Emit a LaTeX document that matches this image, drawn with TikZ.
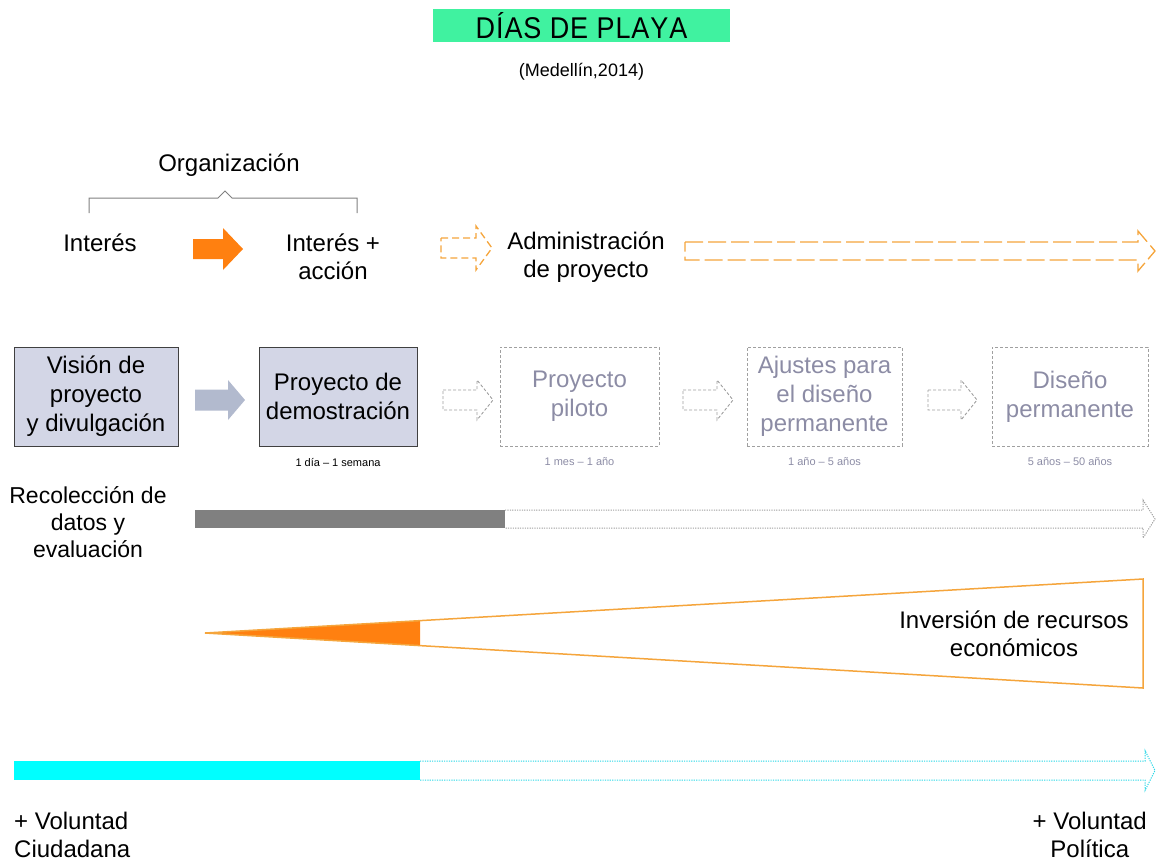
\documentclass[tikz,border=0pt]{standalone}
\usepackage{fontspec}
\setmainfont{Liberation Sans}
\usetikzlibrary{positioning}
\definecolor{mint}{RGB}{64,242,160}
\definecolor{orng}{RGB}{255,128,16}
\definecolor{lorng}{RGB}{245,165,60}
\definecolor{boxfill}{RGB}{211,214,230}
\definecolor{arrgray}{RGB}{178,186,206}
\definecolor{ghost}{RGB}{140,140,165}
\definecolor{dashgray}{RGB}{160,160,160}
\definecolor{barcyan}{RGB}{0,255,255}
\definecolor{dotcyan}{RGB}{40,215,230}
\definecolor{bargray}{RGB}{128,128,128}
\newcommand{\fs}[2]{\fontsize{#1}{#2}\selectfont}
% style, x1, x2, yc, shaft half, head half, head length
\newcommand{\blockarrow}[7]{%
  \draw[#1] ({#2},{#4-#5}) -- ({#3-#7},{#4-#5}) -- ({#3-#7},{#4-#6}) -- ({#3},{#4})
    -- ({#3-#7},{#4+#6}) -- ({#3-#7},{#4+#5}) -- ({#2},{#4+#5}) -- cycle;}
% open-ended outline arrow: style, x1, x2, yc, shaft half, head half, head length
\newcommand{\openarrow}[7]{%
  \draw[#1] ({#2},{#4-#5}) -- ({#3-#7},{#4-#5}) -- ({#3-#7},{#4-#6}) -- ({#3},{#4})
    -- ({#3-#7},{#4+#6}) -- ({#3-#7},{#4+#5}) -- ({#2},{#4+#5});}
\tikzset{
  txt/.style={inner sep=0pt, align=center, font=\fs{24}{28}},
  solidbox/.style={draw=black!75, line width=1pt, fill=boxfill, minimum width=#1, minimum height=99pt,
     inner sep=0pt, align=center, font=\fs{24}{29}},
  ghostbox/.style={draw=dashgray, dash pattern=on 3pt off 2pt, line width=1pt, minimum width=#1,
     minimum height=99pt, inner sep=0pt, align=center, text=ghost, font=\fs{24}{29}},
  timelbl/.style={inner sep=0pt, font=\fs{11}{13}},
  dotline/.style={line width=1pt, dash pattern=on 1.2pt off 1.2pt},
}
\begin{document}
\begin{tikzpicture}[x=1pt,y=-1pt]
\useasboundingbox (0,0) rectangle (1158,863);
% title
\node[fill=mint, minimum width=297pt, minimum height=33pt, inner sep=0pt] (title) at (581.5,25.5)
  {\fs{30}{30}\scalebox{0.9}[1]{D\kern1ptÍ\kern1ptA\kern1ptS\kern1pt{} D\kern1ptE\kern1pt{} P\kern1ptL\kern1ptA\kern1ptY\kern1ptA}};
\node[inner sep=0pt, font=\fs{18}{20}] (sub) at (581.5,72) {(Medellín,2014)};

% organization row
\node[txt] (org) at (229,165) {Organización};
\draw[gray, line width=1pt] (89,213) -- (89,198) -- (218,198) -- (225,191) -- (232,198) -- (357,198) -- (357,213);
\node[txt] (int) at (100,243) {Interés};
\node[txt] (intacc) at (333,257) {Interés +\\acción};
\blockarrow{fill=orng, draw=none}{193}{243}{249}{10}{21}{20}
\blockarrow{draw=lorng, line width=1.3pt, dash pattern=on 7pt off 4pt}{441}{492}{248}{10}{22}{16}
\node[txt] (adm) at (586,257) {Administración\\de proyecto};
\blockarrow{draw=lorng, line width=1.3pt, dash pattern=on 18pt off 5pt}{685}{1155}{251}{9}{20}{17}

% process row
\node[solidbox=164pt] (b1) at (96,396.5) {Visión de\\proyecto\\y divulgación};
\node[solidbox=158pt] (b2) at (338,396.5) {Proyecto de\\demostración};
\node[ghostbox=159pt] (b3) at (579.5,396.5) {Proyecto\\piloto};
\node[ghostbox=155pt] (b4) at (824.5,396.5) {Ajustes para\\el diseño\\permanente};
\node[ghostbox=156pt] (b5) at (1070,396.5) {Diseño\\permanente};
\blockarrow{fill=arrgray, draw=none}{195}{245}{400}{10.5}{20}{17}
\blockarrow{draw=dashgray, line width=0.9pt, dash pattern=on 3pt off 2pt}{443}{493}{400}{10}{20}{16}
\blockarrow{draw=dashgray, line width=0.9pt, dash pattern=on 3pt off 2pt}{683}{733}{400}{10}{20}{16}
\blockarrow{draw=dashgray, line width=0.9pt, dash pattern=on 3pt off 2pt}{928}{977}{400}{10}{20}{16}
\node[timelbl] (t2) at (338,462) {1 día – 1 semana};
\node[timelbl, text=ghost] (t3) at (579.5,462) {1 mes – 1 año};
\node[timelbl, text=ghost] (t4) at (824.5,462) {1 año – 5 años};
\node[timelbl, text=ghost] (t5) at (1070,462) {5 años – 50 años};

% data collection
\node[txt, font=\fs{23}{27}] (rec) at (88,522) {Recolección de\\datos y\\evaluación};
\fill[bargray] (195,510) rectangle (505,528);
\openarrow{draw=dashgray, dotline}{505}{1155}{519}{9}{19}{12}

% investment wedge
\begin{scope}
  \clip (0,0) rectangle (420,863);
  \fill[orng] (205,633) -- (1143,579) -- (1143,688) -- cycle;
\end{scope}
\draw[lorng, line width=1.5pt, line join=miter] (205,633) -- (1143,579) -- (1143,688) -- cycle;
\node[txt] (inv) at (1014,634) {Inversión de recursos\\económicos};

% will bar
\fill[barcyan] (14,761) rectangle (420,780);
\openarrow{draw=dotcyan, dotline}{420}{1155}{770.5}{9.5}{20}{10}
\node[txt, align=left, anchor=west, font=\fs{24}{28}] (vc) at (14,835) {+ Voluntad\\Ciudadana};
\node[txt, align=center, anchor=east, font=\fs{24}{28}] (vp) at (1147,835) {+ Voluntad\\Política};
\end{tikzpicture}
\end{document}
